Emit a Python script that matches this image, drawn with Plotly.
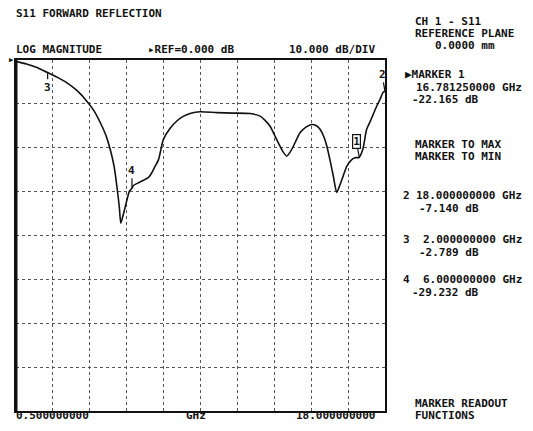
import plotly.graph_objects as go

# ---- data ----
freq_ghz = [0.5, 1.0, 1.5, 1.97, 2.45, 2.92, 3.4, 3.86, 4.2, 4.5, 4.75, 4.97, 5.15, 5.29, 5.4, 5.47,
            5.6, 5.73, 5.88, 6.0, 6.07, 6.3, 6.55, 6.8, 6.94, 7.1, 7.26, 7.49, 7.8, 8.13, 8.45, 8.76,
            9.23, 10.03, 10.8, 11.6, 12.08, 12.3, 12.55, 12.75, 12.94, 13.15, 13.34, 13.5, 13.66,
            13.97, 14.25, 14.53, 14.75, 14.92, 15.1, 15.24, 15.4, 15.55, 15.71, 15.87, 16.05, 16.19,
            16.4, 16.58, 16.78, 16.95, 17.13, 17.3, 17.44, 17.6, 17.76, 17.92, 18.0]
s11_db = [-0.3, -0.9, -1.7, -2.8, -3.9, -5.2, -7.0, -9.4, -11.6, -14.3, -17.0, -20.4, -24.2, -29.0, -33.5, -37.2,
          -35.0, -32.5, -29.9, -29.2, -28.6, -28.0, -27.4, -26.7, -25.7, -24.2, -22.7, -18.1, -15.6, -13.9, -12.8, -12.2,
          -11.8, -12.0, -12.1, -12.2, -12.8, -13.7, -15.1, -17.0, -18.9, -20.8, -21.9, -21.0, -19.6,
          -16.6, -15.3, -14.7, -15.0, -15.8, -17.5, -19.6, -23.0, -26.5, -30.2, -28.4, -26.0, -24.2,
          -22.8, -22.3, -22.165, -20.3, -15.8, -14.0, -12.4, -10.6, -9.0, -7.3, -7.14]

marker_ids = ["1", "2", "3", "4"]
marker_freq = [16.78125, 18.0, 2.0, 6.0]
marker_db = [-22.165, -7.140, -2.789, -29.232]

x_start, x_stop = 0.5, 18.0
ref_db, db_per_div, n_ydiv, n_xdiv = 0.0, 10.0, 8, 10

# ---- geometry (pixels) ----
W, H = 533, 431
L, R, T, B = 15.7, 533 - 385, 60, 431 - 411.5
PW, PH = W - L - R, H - T - B


def px(x):
    return (x - L) / PW


def py(y):
    return (H - B - y) / PH


FONT = "DejaVu Sans Mono"
FS = 11

fig = go.Figure()
fig.add_trace(go.Scatter(x=freq_ghz, y=s11_db, mode="lines",
                         line=dict(color="#111111", width=1.6, shape="spline", smoothing=0.6),
                         hoverinfo="skip", showlegend=False))

annotations = []


def txt(text, x, y, anchor="left", size=FS):
    annotations.append(dict(text=text, xref="paper", yref="paper", x=px(x), y=py(y),
                            xanchor=anchor, yanchor="middle", showarrow=False,
                            font=dict(family=FONT, size=size, color="#111111", weight="bold")))


# header
txt("S11 FORWARD REFLECTION", 14, 13)
txt("LOG MAGNITUDE", 14, 49)
txt("\u25b8REF=%.3f dB" % ref_db, 146, 49)
txt("%.3f dB/DIV" % db_per_div, 377, 49, anchor="right")
txt("CH 1 - S11", 413, 21)
txt("REFERENCE PLANE", 413, 33)
txt("0.0000 mm", 433, 45)

# right readouts
GHZ_R, DB_R = 524, 481
txt("\u25b6MARKER %s" % marker_ids[0], 403, 75)
txt("%.9f GHz" % marker_freq[0], GHZ_R, 88, anchor="right")
txt("%.3f dB" % marker_db[0], DB_R, 100, anchor="right")
txt("MARKER TO MAX", 413, 145)
txt("MARKER TO MIN", 413, 157)
for i, yy in zip([1, 2, 3], [196, 240, 280]):
    txt(marker_ids[i], 401, yy)
    txt("%.9f GHz" % marker_freq[i], GHZ_R, yy, anchor="right")
    txt("%.3f dB" % marker_db[i], DB_R, yy + 13, anchor="right")

# bottom
txt("%.9f" % x_start, 14, 416)
txt("GHz", 196, 416, anchor="center")
txt("%.9f" % x_stop, 377, 416, anchor="right")
txt("MARKER READOUT", 413, 404)
txt("FUNCTIONS", 413, 416)

# markers on trace
mk_font = dict(family=FONT, size=FS, color="#111111", weight="bold")
annotations.append(dict(x=marker_freq[0], y=marker_db[0], xref="x", yref="y", text="1",
                        showarrow=True, arrowhead=0, arrowwidth=1.2, arrowcolor="#111111",
                        ax=-3, ay=-16, font=mk_font, bordercolor="#111111", borderwidth=1.2,
                        borderpad=0, bgcolor="white"))
annotations.append(dict(x=marker_freq[1], y=marker_db[1], xref="x", yref="y", text="2",
                        showarrow=True, arrowhead=0, arrowwidth=1.2, arrowcolor="#111111",
                        ax=-3, ay=-17, font=mk_font))
annotations.append(dict(x=marker_freq[2], y=marker_db[2], xref="x", yref="y", text="3",
                        showarrow=True, arrowhead=0, arrowwidth=1.2, arrowcolor="#111111",
                        ax=0, ay=15, font=mk_font))
annotations.append(dict(x=marker_freq[3], y=marker_db[3], xref="x", yref="y", text="4",
                        showarrow=True, arrowhead=0, arrowwidth=1.2, arrowcolor="#111111",
                        ax=0, ay=-18, font=mk_font))
annotations.append(dict(text="\u25b6", xref="paper", yref="y", x=0, y=ref_db, xanchor="right",
                        yanchor="middle", showarrow=False,
                        font=dict(family=FONT, size=7, color="#111111")))

axis_common = dict(showgrid=True, gridcolor="#555555", gridwidth=1, griddash="dot",
                   showticklabels=False, ticks="", zeroline=False, showline=True,
                   linecolor="#111111", linewidth=1.5, mirror=True, fixedrange=True)

fig.update_layout(
    width=W, height=H,
    margin=dict(l=L, r=R, t=T, b=B, pad=0),
    paper_bgcolor="white", plot_bgcolor="white",
    xaxis=dict(range=[x_start, x_stop], tick0=x_start, dtick=(x_stop - x_start) / n_xdiv, **axis_common),
    yaxis=dict(range=[ref_db - n_ydiv * db_per_div, ref_db], tick0=ref_db, dtick=db_per_div, **axis_common),
    annotations=annotations,
    showlegend=False,
)
fig.add_shape(type="line", xref="paper", yref="paper", x0=0, x1=0, y0=0, y1=1,
              line=dict(color="#111111", width=3))

fig.write_html("out.html", config={"displayModeBar": False},
               post_script="document.body.style.margin='0';document.body.style.overflow='hidden';")
